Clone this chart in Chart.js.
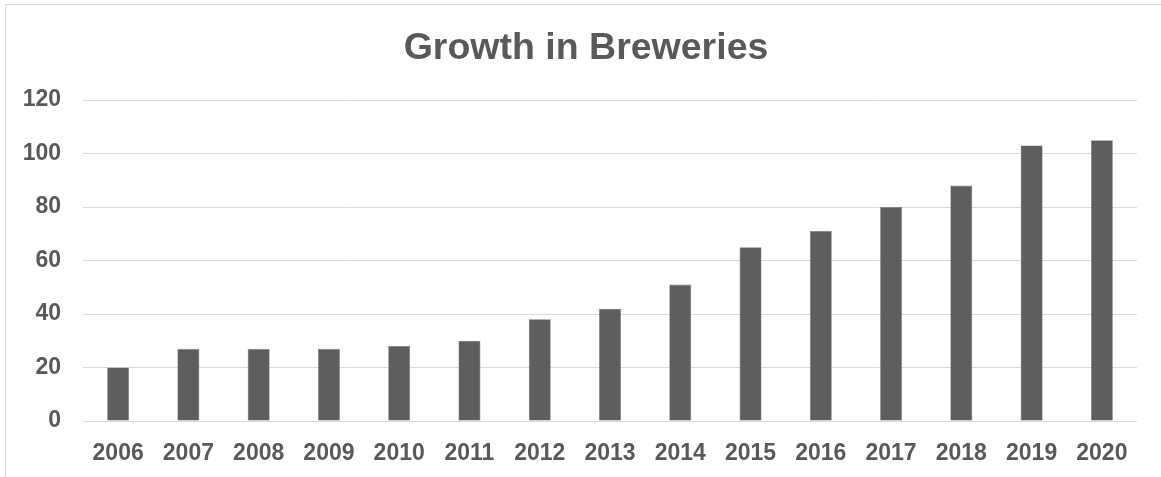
<!DOCTYPE html>
<html>
<head>
<meta charset="utf-8">
<title>Growth in Breweries</title>
<script src="https://cdn.jsdelivr.net/npm/chart.js@4.4.1/dist/chart.umd.min.js"></script>
<style>
  html, body { margin: 0; padding: 0; background: #ffffff; }
  #frame {
    position: absolute; left: 0; top: 0; width: 1161px; height: 477px; overflow: hidden;
  }
  #edge {
    position: absolute; left: 5px; top: 4px; width: 1300px; height: 600px;
    border-left: 1px solid #d9d9d9; border-top: 1px solid #d9d9d9;
  }
  canvas { position: absolute; left: 0; top: 0; }
</style>
</head>
<body>
<div id="frame">
  <div id="edge"></div>
  <canvas id="chart" width="1161" height="477"></canvas>
</div>
<script>
// Number of breweries per year
const years = ['2006', '2007', '2008', '2009', '2010', '2011', '2012', '2013', '2014', '2015', '2016', '2017', '2018', '2019', '2020'];
const breweries = [20, 27, 27, 27, 28, 30, 38, 42, 51, 65, 71, 80, 88, 103, 105];
const yTicks = [0, 20, 40, 60, 80, 100, 120];
const chartTitle = 'Growth in Breweries';

const textColor = '#595959';
const fontFamily = '"Liberation Sans", Arial, Helvetica, sans-serif';

// Heading centred over the whole bordered frame rather than the plot box
const frameTitle = {
  id: 'frameTitle',
  afterDraw(chart) {
    const ctx = chart.ctx;
    ctx.save();
    ctx.font = 'bold 37.5px ' + fontFamily;
    ctx.fillStyle = textColor;
    ctx.textAlign = 'center';
    ctx.textBaseline = 'alphabetic';
    ctx.fillText(chartTitle, 586, 59);
    ctx.restore();
  }
};

new Chart(document.getElementById('chart'), {
  type: 'bar',
  data: {
    labels: years,
    datasets: [{
      label: 'Breweries',
      data: breweries,
      backgroundColor: '#5e5e5e',
      borderColor: '#7a7a7a',
      borderWidth: 0.6,
      categoryPercentage: 1,
      barPercentage: 0.313
    }]
  },
  plugins: [frameTitle],
  options: {
    responsive: false,
    animation: false,
    devicePixelRatio: 1,
    layout: { padding: { left: 0, right: 24, top: 100, bottom: 0 } },
    plugins: {
      legend: { display: false },
      tooltip: { enabled: false },
      title: { display: false }
    },
    scales: {
      x: {
        grid: { display: false, drawTicks: false },
        border: { display: false },
        ticks: {
          color: textColor,
          font: { family: fontFamily, size: 23, weight: 'bold' },
          padding: 19,
          maxRotation: 0,
          autoSkip: false
        },
        afterFit(scale) { scale.height = 56; }
      },
      y: {
        min: yTicks[0],
        max: yTicks[yTicks.length - 1],
        afterBuildTicks(scale) { scale.ticks = yTicks.map(v => ({ value: v })); },
        grid: { color: '#d9d9d9', lineWidth: 1, drawTicks: false },
        border: { display: false },
        ticks: {
          color: textColor,
          font: { family: fontFamily, size: 23, weight: 'bold' },
          padding: 22
        },
        afterFit(scale) { scale.width = 83; }
      }
    }
  }
});
</script>
</body>
</html>
